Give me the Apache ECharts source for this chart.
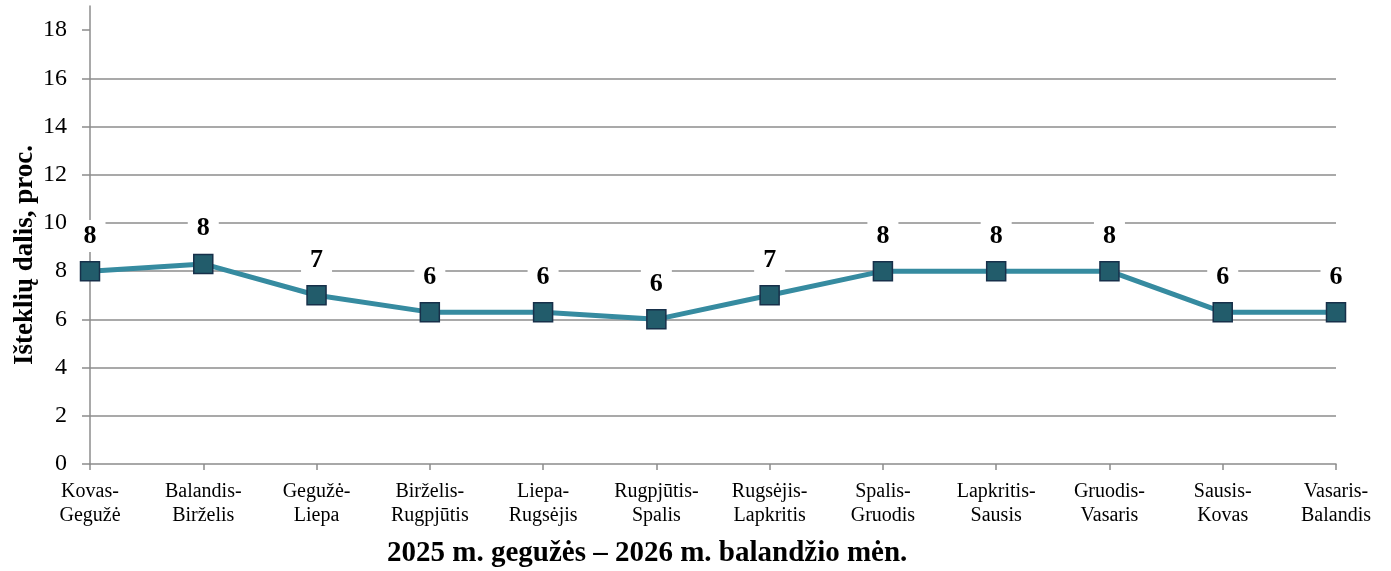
<!DOCTYPE html>
<html>
<head>
<meta charset="utf-8">
<script src="https://cdn.jsdelivr.net/npm/echarts@6/dist/echarts.min.js"></script>
<style>
  html, body { margin: 0; padding: 0; background: #fff; }
  #chart { width: 1391px; height: 571px; }
</style>
</head>
<body>
<div id="chart"></div>
<script>
// kategorijos (mėnesių laikotarpiai)
const categories = [
  "Kovas-\nGegužė", "Balandis-\nBirželis", "Gegužė-\nLiepa", "Birželis-\nRugpjūtis",
  "Liepa-\nRugsėjis", "Rugpjūtis-\nSpalis", "Rugsėjis-\nLapkritis", "Spalis-\nGruodis",
  "Lapkritis-\nSausis", "Gruodis-\nVasaris", "Sausis-\nKovas", "Vasaris-\nBalandis"
];
// reikšmės, proc.
const values = [8.0, 8.3, 7.0, 6.3, 6.3, 6.0, 7.0, 8.0, 8.0, 8.0, 6.3, 6.3];
// y ašies žymės
const yTicks = [0, 2, 4, 6, 8, 10, 12, 14, 16, 18];

const serif = "'Liberation Serif', 'Times New Roman', serif";
const gridColor = "#8c8c8c";

const chart = echarts.init(document.getElementById("chart"), null, { renderer: "canvas" });

const option = {
  animation: false,
  title: {
    text: "2025 m. gegužės – 2026 m. balandžio mėn.",
    left: 387,
    top: 539,
    padding: 0,
    textStyle: { fontFamily: serif, fontSize: 29, fontWeight: "bold", color: "#000" }
  },
  // y ašies pavadinimas
  graphic: [
    {
      type: "text",
      x: 25,
      y: 255,
      rotation: Math.PI / 2,
      style: {
        text: "Išteklių dalis, proc.",
        fontFamily: serif,
        fontSize: 27,
        fontWeight: "bold",
        fill: "#000",
        align: "center",
        verticalAlign: "middle"
      }
    }
  ],
  grid: { left: 90, right: 55, top: 6, bottom: 107, outerBoundsMode: "none", containLabel: false },
  xAxis: {
    type: "category",
    data: categories,
    boundaryGap: false,
    axisLine: { lineStyle: { color: gridColor, width: 1.5 } },
    axisTick: { show: true, length: 6, alignWithLabel: true, lineStyle: { color: gridColor, width: 1.5 } },
    axisLabel: { fontFamily: serif, fontSize: 20, color: "#000", margin: 16, lineHeight: 24, interval: 0 }
  },
  yAxis: {
    type: "value",
    min: 0,
    max: 19,
    interval: 2,
    axisLine: { show: true, lineStyle: { color: gridColor, width: 1.5 } },
    axisTick: { show: true, length: 8, customValues: yTicks, lineStyle: { color: gridColor, width: 1.5 } },
    axisLabel: { fontFamily: serif, fontSize: 24, color: "#000", margin: 23, customValues: yTicks },
    splitLine: { show: true, showMinLine: false, showMaxLine: false, lineStyle: { color: gridColor, width: 1.5 } }
  },
  series: [
    {
      type: "line",
      data: values,
      symbol: "rect",
      symbolSize: 19,
      lineStyle: { color: "#368ba0", width: 5 },
      itemStyle: { color: "#225c6b", borderColor: "#17304a", borderWidth: 1.5 },
      label: {
        show: true,
        position: "top",
        distance: 9,
        formatter: (p) => Math.round(p.value),
        fontFamily: serif,
        fontSize: 26,
        fontWeight: "bold",
        color: "#000",
        lineHeight: 26,
        backgroundColor: "#fff",
        padding: [3, 9]
      },
      z: 5
    }
  ]
};

chart.setOption(option);
</script>
</body>
</html>
